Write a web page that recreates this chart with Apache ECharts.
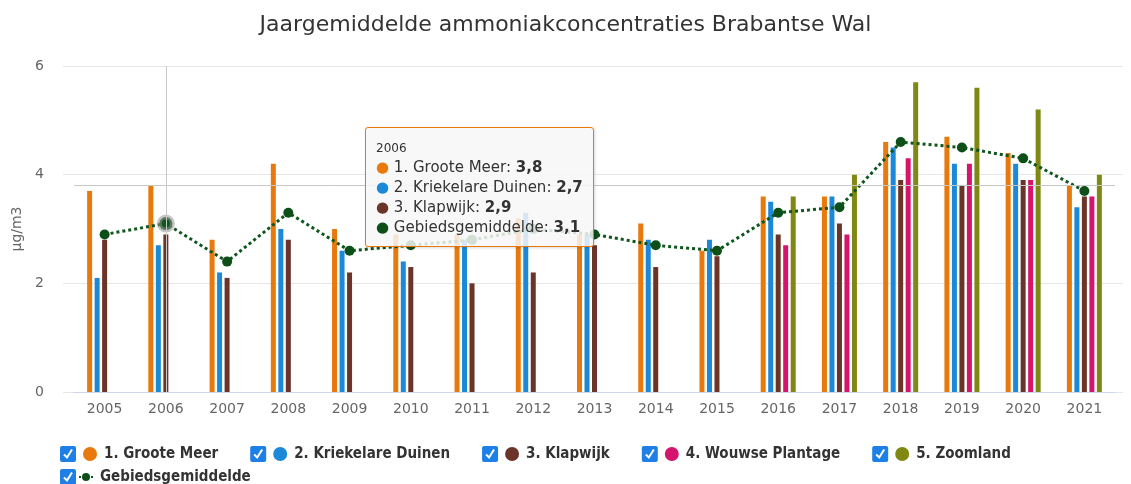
<!DOCTYPE html>
<html>
<head>
<meta charset="utf-8">
<script src="https://cdn.jsdelivr.net/npm/echarts@6/dist/echarts.min.js"></script>
<style>
  html, body { margin: 0; padding: 0; background: #fff; }
  #container { width: 1131px; height: 484px; }
</style>
</head>
<body>
<div id="container"></div>
<script>
var years = ['2005', '2006', '2007', '2008', '2009', '2010', '2011', '2012', '2013',
    '2014', '2015', '2016', '2017', '2018', '2019', '2020', '2021'];
var grooteMeer = [3.7, 3.8, 2.8, 4.2, 3.0, 2.9, 2.9, 3.2, 2.9, 3.1, 2.6, 3.6, 3.6, 4.6, 4.7, 4.4, 3.8];
var kriekelareDuinen = [2.1, 2.7, 2.2, 3.0, 2.6, 2.4, 2.8, 3.3, 2.9, 2.8, 2.8, 3.5, 3.6, 4.5, 4.2, 4.2, 3.4];
var klapwijk = [2.8, 2.9, 2.1, 2.8, 2.2, 2.3, 2.0, 2.2, 2.7, 2.3, 2.5, 2.9, 3.1, 3.9, 3.8, 3.9, 3.6];
var wouwsePlantage = ['-', '-', '-', '-', '-', '-', '-', '-', '-', '-', '-', 2.7, 2.9, 4.3, 4.2, 3.9, 3.6];
var zoomland = ['-', '-', '-', '-', '-', '-', '-', '-', '-', '-', '-', 3.6, 4.0, 5.7, 5.6, 5.2, 4.0];
var gebiedsgemiddelde = [2.9, 3.1, 2.4, 3.3, 2.6, 2.7, 2.8, 3.0, 2.9, 2.7, 2.6, 3.3, 3.4, 4.6, 4.5, 4.3, 3.7];
var yTicks = [0, 2, 4, 6];

var barNames = ['1. Groote Meer', '2. Kriekelare Duinen', '3. Klapwijk', '4. Wouwse Plantage', '5. Zoomland'];
var barData = [grooteMeer, kriekelareDuinen, klapwijk, wouwsePlantage, zoomland];
var barColors = ['#E8790C', '#1C88D8', '#6B3429', '#D5146C', '#7F8813'];
var lineName = 'Gebiedsgemiddelde';
var lineColor = '#0D4F19';

var dom = document.getElementById('container');
var myChart = echarts.init(dom, null, { renderer: 'canvas' });

// legend icons: checkbox + coloured marker, drawn as inline svg
function checkbox() {
    return '<rect x="1" y="1" width="16" height="16" rx="2" fill="#1E7FE6"/>' +
        '<path d="M5 9.5 L8 12.5 L13 4.5" stroke="#fff" stroke-width="2" fill="none"/>';
}
function barIcon(color) {
    var svg = '<svg xmlns="http://www.w3.org/2000/svg" width="40" height="18">' + checkbox() +
        '<circle cx="31" cy="9" r="7" fill="' + color + '"/></svg>';
    return 'image://data:image/svg+xml;charset=utf-8,' + encodeURIComponent(svg);
}
function lineIcon(color) {
    var svg = '<svg xmlns="http://www.w3.org/2000/svg" width="36" height="18">' + checkbox() +
        '<line x1="20" y1="9" x2="34" y2="9" stroke="' + color + '" stroke-width="2" stroke-dasharray="2,2"/>' +
        '<circle cx="27" cy="9" r="4" fill="' + color + '"/></svg>';
    return 'image://data:image/svg+xml;charset=utf-8,' + encodeURIComponent(svg);
}

var legendText = {
    fontFamily: 'DejaVu Sans Condensed',
    fontSize: 15,
    fontWeight: 'bold',
    color: '#333'
};

function fmt(v) {
    return v.toFixed(1).replace('.', ',');
}

var series = barNames.map(function (name, i) {
    return {
        name: name,
        type: 'bar',
        data: barData[i],
        barWidth: 5,
        barGap: '50%',
        itemStyle: { color: barColors[i] },
        emphasis: { disabled: true }
    };
});
series.push({
    name: lineName,
    type: 'line',
    data: gebiedsgemiddelde,
    symbol: 'circle',
    symbolSize: 10,
    itemStyle: { color: lineColor },
    lineStyle: { color: lineColor, width: 3, type: 'dotted' },
    emphasis: {
        scale: 1.3,
        itemStyle: { borderColor: 'rgba(150,150,150,0.55)', borderWidth: 5 }
    },
    z: 5
});

myChart.setOption({
    animation: false,
    color: barColors.concat([lineColor]),
    textStyle: { fontFamily: 'DejaVu Sans' },
    title: {
        text: 'Jaargemiddelde ammoniakconcentraties Brabantse Wal',
        left: 'center',
        top: 9,
        textStyle: {
            fontFamily: 'DejaVu Sans',
            fontSize: 22,
            fontWeight: 'normal',
            color: '#333'
        }
    },
    grid: [
        { left: 74, right: 16, top: 66, bottom: 92 },
        { left: 63, right: 8, top: 66, bottom: 92 }
    ],
    legend: [
        {
            data: barNames.map(function (name, i) {
                return { name: name, icon: barIcon(barColors[i]) };
            }),
            left: 54,
            top: 440,
            itemWidth: 40,
            itemHeight: 18,
            itemGap: 31,
            textStyle: legendText
        },
        {
            data: [{ name: lineName, icon: lineIcon(lineColor) }],
            left: 54,
            top: 463,
            itemWidth: 36,
            itemHeight: 18,
            textStyle: legendText
        }
    ],
    tooltip: {
        trigger: 'axis',
        alwaysShowContent: true,
        transitionDuration: 0,
        position: [365, 127],
        backgroundColor: 'rgba(247,247,247,0.85)',
        borderColor: '#E8790C',
        borderWidth: 1,
        padding: [11, 10, 9, 10],
        textStyle: { fontFamily: 'DejaVu Sans', fontSize: 15, color: '#333' },
        extraCssText: 'box-shadow:1px 1px 3px rgba(0,0,0,0.15);border-radius:3px;line-height:20px;',
        axisPointer: {
            type: 'cross',
            crossStyle: { color: '#c8c8c8', width: 1, type: 'solid' },
            lineStyle: { color: '#c8c8c8', width: 1, type: 'solid' },
            label: { show: false }
        },
        formatter: function (params) {
            var html = '<div style="font-size:12px;line-height:18px">' + params[0].name + '</div>';
            params.forEach(function (p) {
                if (p.value === '-' || p.value == null) return;
                html += '<div><span style="color:' + p.color + '">\u25CF</span> ' + p.seriesName +
                    ': <b>' + fmt(p.value) + '</b></div>';
            });
            return html;
        }
    },
    xAxis: [
        {
            type: 'category',
            data: years,
            axisLine: { lineStyle: { color: '#ccd6eb' } },
            axisTick: { alignWithLabel: true, length: 10, lineStyle: { color: '#ccd6eb' } },
            axisLabel: { color: '#666', fontSize: 14, margin: 10 }
        },
        { gridIndex: 1, type: 'value', show: false }
    ],
    yAxis: [
        {
            type: 'value',
            min: yTicks[0],
            max: yTicks[yTicks.length - 1],
            interval: 2,
            name: '\u00B5g/m3',
            nameLocation: 'middle',
            nameGap: 50,
            nameTextStyle: { color: '#666', fontSize: 14 },
            axisLine: { show: false },
            axisTick: { show: false },
            axisLabel: { color: '#666', fontSize: 14, margin: 30 },
            splitLine: { show: false }
        },
        {
            gridIndex: 1,
            type: 'value',
            min: yTicks[0],
            max: yTicks[yTicks.length - 1],
            interval: 2,
            axisLine: { show: false },
            axisTick: { show: false },
            axisLabel: { show: false },
            axisPointer: { show: false },
            splitLine: { lineStyle: { color: '#e6e6e6' } },
            z: 0
        }
    ],
    series: series
});

var pt = myChart.convertToPixel({ xAxisIndex: 0, yAxisIndex: 0 }, ['2006', grooteMeer[1]]);
myChart.dispatchAction({ type: 'showTip', x: pt[0], y: pt[1] });

window.addEventListener('resize', function () {
    myChart.resize();
});
</script>
</body>
</html>
